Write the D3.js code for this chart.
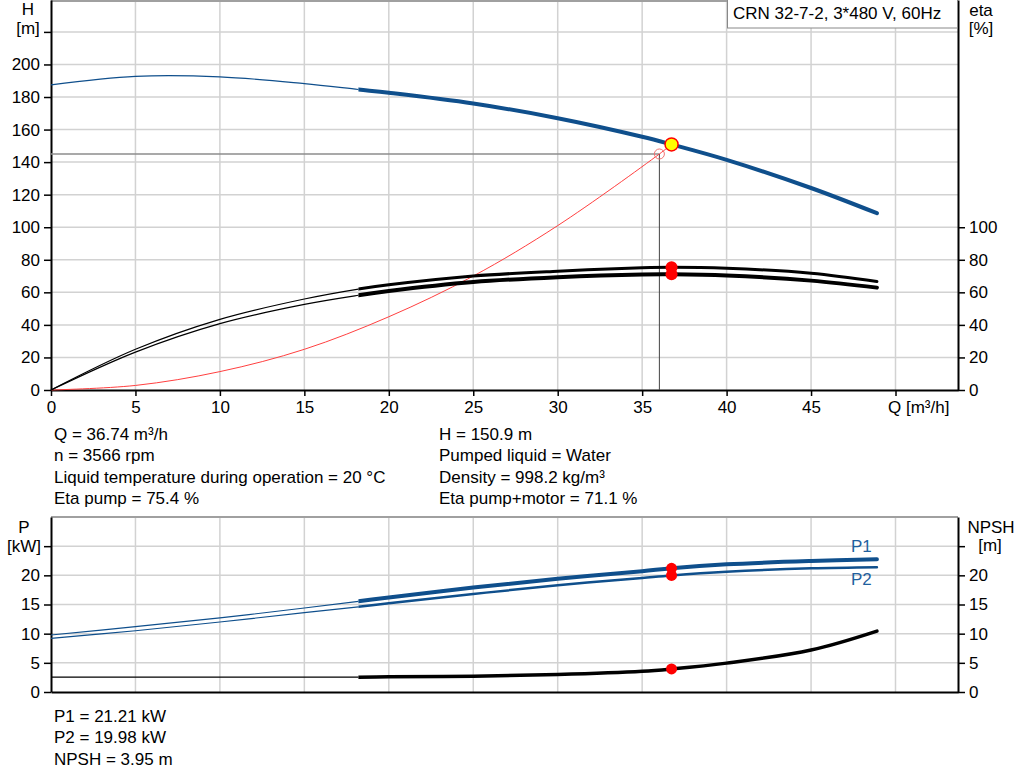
<!DOCTYPE html>
<html>
<head>
<meta charset="utf-8">
<script src="https://cdn.jsdelivr.net/npm/d3@7"></script>
<style>
  body { margin: 0; background: #fff; }
  svg text { font-family: "Liberation Sans", Arial, sans-serif; font-size: 17px; fill: #000; }
</style>
</head>
<body>
<svg id="chart" width="1024" height="781"></svg>
<script>
// Curve points, flow in m³/h
const flow = [0, 5, 10, 15, 18.2, 20, 25, 30, 35, 36.74, 40, 45, 48.9];
const head = [187.5, 192.7, 192.4, 188.2, 184.6, 182.6, 176.0, 167.0, 155.6, 150.9, 141.4, 124.1, 108.6];
const etaPump = [0, 25, 43.4, 55.9, 62, 64.6, 70, 73.0, 75.1, 75.4, 74.8, 71.7, 66.6];
const etaPumpMotor = [0, 23.3, 40.8, 52.6, 58.2, 60.8, 66.3, 69.3, 71.0, 71.1, 70.4, 67.2, 62.9];
const powerP1 = [9.77, 11.2, 12.7, 14.4, 15.55, 16.2, 17.9, 19.4, 20.7, 21.21, 21.88, 22.45, 22.75];
const powerP2 = [9.2, 10.5, 12.0, 13.6, 14.6, 15.2, 16.8, 18.3, 19.55, 19.98, 20.6, 21.2, 21.4];
const npshFlow = [0, 18.2, 20, 25, 30, 35, 36.74, 40, 45, 48.9];
const npsh = [2.55, 2.55, 2.6, 2.72, 3.0, 3.55, 3.95, 4.95, 7.2, 10.45];

// System curve up to the requested duty point and on to the operating point
const systemFlow = [0, 5, 10, 15, 20, 25, 30, 36.02, 36.74];
const systemHead = [0, 2.8, 11.3, 25, 45, 70, 101, 145, 150.9];
const dutyPoint = [36.02, 145];

// Operating point
const opFlow = 36.74;
const opHead = 150.9;
const opEta = [75.4, 71.1];
const opPower = [21.21, 19.98];
const opNpsh = 3.95;
const thickFrom = 18.2;

// Ticks
const flowTicks = [0, 5, 10, 15, 20, 25, 30, 35, 40, 45, 50];
const headTicks = [0, 20, 40, 60, 80, 100, 120, 140, 160, 180, 200, 220];
const etaTicks = [0, 20, 40, 60, 80, 100];
const powerTicks = [0, 5, 10, 15, 20, 25];

const title = "CRN 32-7-2, 3*480 V, 60Hz";
const infoLeft = ["Q = 36.74 m³/h", "n = 3566 rpm", "Liquid temperature during operation = 20 °C", "Eta pump = 75.4 %"];
const infoRight = ["H = 150.9 m", "Pumped liquid = Water", "Density = 998.2 kg/m³", "Eta pump+motor = 71.1 %"];
const infoBottom = ["P1 = 21.21 kW", "P2 = 19.98 kW", "NPSH = 3.95 m"];

const BLUE = "#0f4f8c";
const GRID = "#d2d2d2";

let svg = d3.select("#chart");
svg.append("rect").attr("width", 1024).attr("height", 781).attr("fill", "#fff");

let x = d3.scaleLinear().domain([0, 53.7]).range([51, 958]);
let yH = d3.scaleLinear().domain([0, 239.6]).range([390, 0]);
let yP = d3.scaleLinear().domain([0, 30]).range([692, 517]);

// Clip regions for the thin (extrapolated) and thick parts of the curves
let defs = svg.append("defs");
defs.append("clipPath").attr("id", "clip-thin")
  .append("rect").attr("x", 0).attr("y", 0).attr("width", x(thickFrom)).attr("height", 781);
defs.append("clipPath").attr("id", "clip-thick")
  .append("rect").attr("x", x(thickFrom)).attr("y", 0).attr("width", 1024).attr("height", 781);

// Grid for one panel
function drawGrid(yScale, yTicks, topY) {
  let g = svg.append("g");
  g.selectAll("line.v").data(flowTicks.slice(1)).enter()
    .append("line")
      .attr("x1", d => x(d)).attr("x2", d => x(d))
      .attr("y1", yScale.range()[0]).attr("y2", yScale.range()[1])
      .attr("stroke", GRID).attr("stroke-width", 1.5);
  g.selectAll("line.h").data(yTicks.slice(1)).enter()
    .append("line")
      .attr("x1", x.range()[0]).attr("x2", x.range()[1])
      .attr("y1", d => yScale(d)).attr("y2", d => yScale(d))
      .attr("stroke", GRID).attr("stroke-width", 1.5);
  g.append("line")
    .attr("x1", x.range()[0]).attr("x2", x.range()[1])
    .attr("y1", topY).attr("y2", topY)
    .attr("stroke", "#a0a0a0").attr("stroke-width", 2);
}

drawGrid(yH, headTicks, 1);
drawGrid(yP, powerTicks, 517);

function styleAxis(g) {
  g.select(".domain").attr("stroke", "#000").attr("stroke-width", 2);
  g.selectAll(".tick line").attr("stroke", "#000").attr("stroke-width", 1.5);
  g.attr("font-size", null).attr("font-family", null);
}

// Top panel axes
svg.append("g").attr("transform", `translate(${x.range()[0]},0)`)
  .call(d3.axisLeft(yH).tickValues(headTicks).tickSize(7).tickSizeOuter(0).tickPadding(4)
    .tickFormat(d => d <= 200 ? d : ""))
  .call(styleAxis);
svg.append("g").attr("transform", `translate(${x.range()[1]},0)`)
  .call(d3.axisRight(yH).tickValues(etaTicks).tickSize(7).tickSizeOuter(0).tickPadding(4))
  .call(styleAxis);
svg.append("g").attr("transform", `translate(0,${yH.range()[0]})`)
  .call(d3.axisBottom(x).tickValues(flowTicks).tickSize(6).tickSizeOuter(0).tickPadding(5)
    .tickFormat(d => d == 50 ? "" : d))
  .call(styleAxis);

// Bottom panel axes
svg.append("g").attr("transform", `translate(${x.range()[0]},0)`)
  .call(d3.axisLeft(yP).tickValues(powerTicks).tickSize(7).tickSizeOuter(0).tickPadding(4)
    .tickFormat(d => d < 25 ? d : ""))
  .call(styleAxis);
svg.append("g").attr("transform", `translate(${x.range()[1]},0)`)
  .call(d3.axisRight(yP).tickValues(powerTicks).tickSize(7).tickSizeOuter(0).tickPadding(4)
    .tickFormat(d => d < 25 ? d : ""))
  .call(styleAxis);
svg.append("g").attr("transform", `translate(0,${yP.range()[0]})`)
  .call(d3.axisBottom(x).tickValues([]).tickSizeOuter(0))
  .call(styleAxis);

// Duty point guide lines
svg.append("line")
  .attr("x1", x(0)).attr("x2", x(dutyPoint[0]))
  .attr("y1", yH(dutyPoint[1])).attr("y2", yH(dutyPoint[1]))
  .attr("stroke", "#8c8c8c").attr("stroke-width", 1.5);
svg.append("line")
  .attr("x1", x(dutyPoint[0])).attr("x2", x(dutyPoint[0]))
  .attr("y1", yH(dutyPoint[1])).attr("y2", yH(0))
  .attr("stroke", "#444").attr("stroke-width", 1);

// One smooth path, drawn thin left of thickFrom and thick right of it
function drawCurve(xs, ys, yScale, color, width) {
  let pts = xs.map((q, i) => [q, ys[i]]);
  let line = d3.line().x(d => x(d[0])).y(d => yScale(d[1]))
    .curve(d3.curveCatmullRom.alpha(0.5));
  svg.append("path").attr("d", line(pts)).attr("clip-path", "url(#clip-thin)")
    .attr("fill", "none").attr("stroke", color).attr("stroke-width", 1.2);
  svg.append("path").attr("d", line(pts)).attr("clip-path", "url(#clip-thick)")
    .attr("fill", "none").attr("stroke", color).attr("stroke-width", width)
    .attr("stroke-linecap", "round");
}

// System curve
let sysLine = d3.line().x(d => x(d[0])).y(d => yH(d[1])).curve(d3.curveCatmullRom.alpha(0.5));
svg.append("path").attr("d", sysLine(systemFlow.map((q, i) => [q, systemHead[i]])))
  .attr("fill", "none").attr("stroke", "#ff4040").attr("stroke-width", 1);
svg.append("circle").attr("cx", x(dutyPoint[0])).attr("cy", yH(dutyPoint[1])).attr("r", 5)
  .attr("fill", "none").attr("stroke", "#f07070").attr("stroke-width", 1);

drawCurve(flow, head, yH, BLUE, 4);
drawCurve(flow, etaPump, yH, "#000", 3);
drawCurve(flow, etaPumpMotor, yH, "#000", 4);
drawCurve(flow, powerP1, yP, BLUE, 4);
drawCurve(flow, powerP2, yP, BLUE, 2.5);
drawCurve(npshFlow, npsh, yP, "#000", 3.5);

// Operating point markers
svg.append("circle").attr("cx", x(opFlow)).attr("cy", yH(opHead)).attr("r", 6.5)
  .attr("fill", "#ffff00").attr("stroke", "#ff0000").attr("stroke-width", 1.5);
svg.selectAll("circle.eta").data(opEta).enter()
  .append("circle").attr("cx", x(opFlow)).attr("cy", d => yH(d)).attr("r", 6).attr("fill", "#ff0000");
svg.selectAll("circle.pow").data(opPower.concat([opNpsh])).enter()
  .append("circle").attr("cx", x(opFlow)).attr("cy", d => yP(d)).attr("r", 5.5).attr("fill", "#ff0000");

// Labels
function label(txt, tx, ty, anchor, color) {
  svg.append("text").text(txt).attr("x", tx).attr("y", ty)
    .attr("text-anchor", anchor || "start").style("fill", color || "#000");
}
label("H", 28, 15, "middle");
label("[m]", 28, 34, "middle");
label("eta", 981, 16, "middle");
label("[%]", 981, 34, "middle");
label("Q [m³/h]", 888, 413);
label("P", 24, 533, "middle");
label("[kW]", 24, 552, "middle");
label("NPSH", 991, 533, "middle");
label("[m]", 990, 551, "middle");
label("P1", 851, 552, "start", "#1f5f9e");
label("P2", 851, 585, "start", "#1f5f9e");

infoLeft.forEach((t, i) => label(t, 54, 440 + i * 21.3));
infoRight.forEach((t, i) => label(t, 439, 440 + i * 21.3));
infoBottom.forEach((t, i) => label(t, 54, 722 + i * 21.3));

// Title box
svg.append("rect").attr("x", 727.5).attr("y", -1).attr("width", 230).attr("height", 29)
  .attr("fill", "#fff").attr("stroke", "#888").attr("stroke-width", 1);
label(title, 733, 19);
</script>
</body>
</html>
